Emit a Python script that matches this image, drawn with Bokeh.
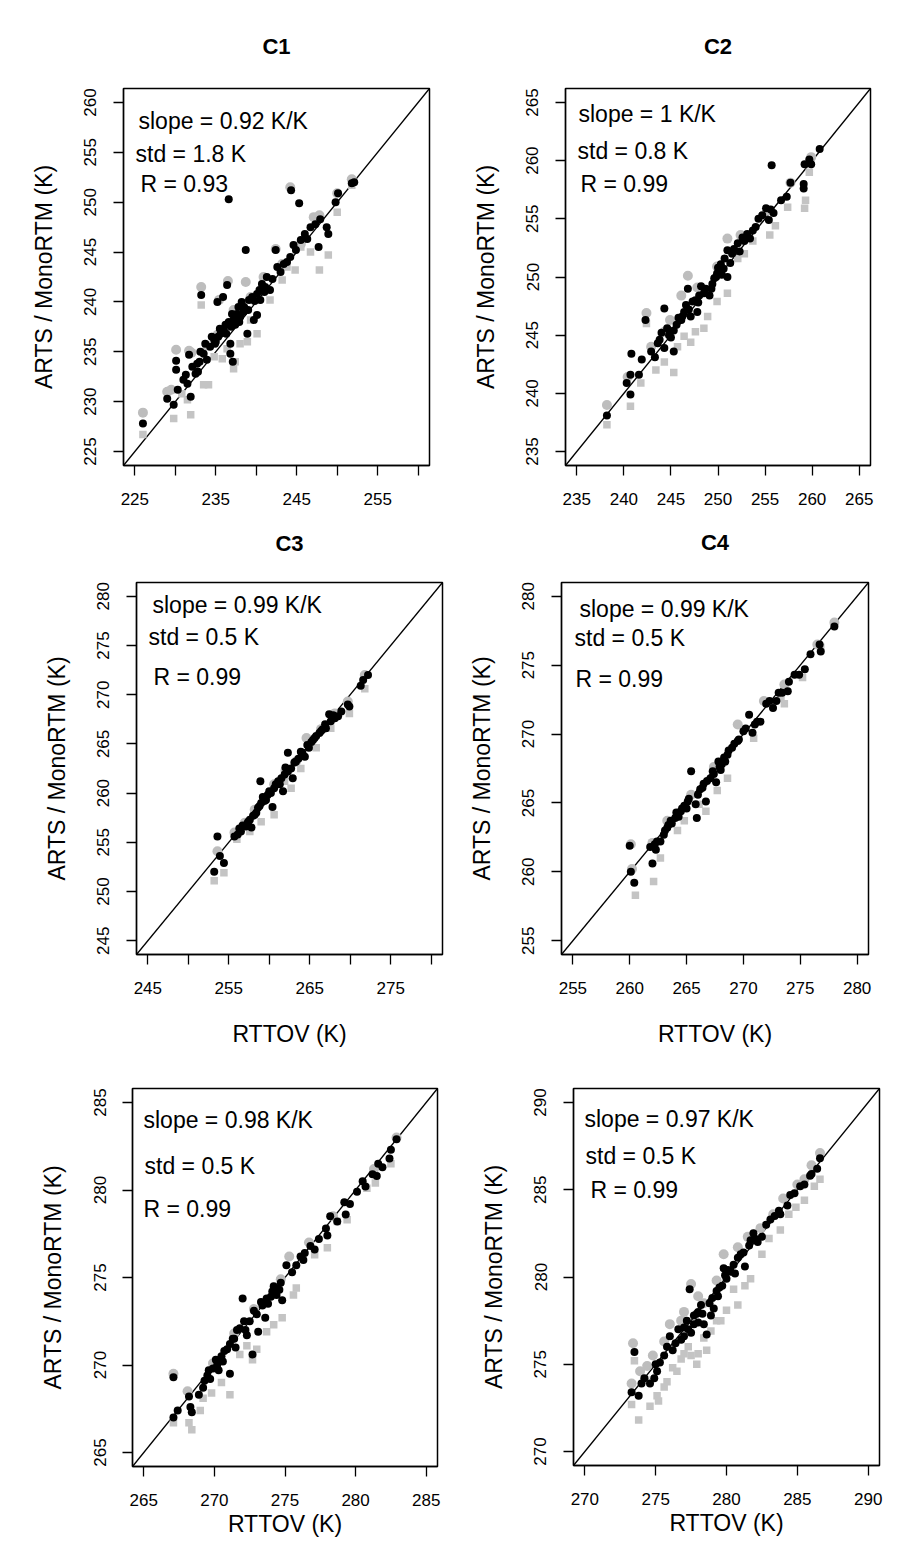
from bokeh.plotting import figure
from bokeh.models import FixedTicker, Range1d, Label
from bokeh.layouts import column, row
from bokeh.embed import file_html
from bokeh.resources import INLINE

FONT = "Liberation Sans"

# ---------------- data (RTTOV, ARTS/MonoRTM) ----------------
c1_black = [(226.0,227.8),(229.0,230.3),(229.8,229.7),(230.1,234.1),(230.1,233.2),(230.3,231.2),(231.0,232.2),(231.3,232.7),
            (231.9,230.5),(231.7,234.7),(232.1,233.5),(233.1,235.0),(233.2,240.7),(232.7,233.8),(233.7,235.8),(233.9,234.2),
            (235.2,240.0),(235.9,240.5),(236.4,241.7),(236.6,250.3),(234.8,236.2),(235.6,236.8),(236.0,237.2),(236.8,235.8),
            (237.1,234.0),(237.2,238.2),(237.6,238.8),(238.0,238.5),(238.7,245.2),(238.5,239.5),(239.1,240.2),(239.5,240.5),
            (240.1,238.7),(240.1,240.8),(240.7,241.8),(241.3,242.5),(241.7,241.2),(242.4,245.2),(242.6,243.5),(243.0,243.0),
            (243.4,243.8),(244.2,244.5),(244.3,251.2),(245.3,249.9),(244.6,245.7),(245.5,246.2),(246.3,246.3),(246.7,247.5),
            (247.3,247.8),(247.7,245.5),(247.9,248.3),(248.9,246.8),(249.8,250.0),(250.1,250.9),(251.8,251.9),(252.1,252.0),
            (248.7,247.5),(234.3,235.5),(234.9,235.8),(235.3,236.5),(236.2,237.7),(236.6,238.0),(237.4,237.7),(237.0,238.8),
            (237.8,239.5),(238.2,240.0),(238.9,236.8),(239.7,238.2),(240.5,240.2),(241.1,241.5),(236.8,234.8),(233.5,234.8),
            (232.5,232.8),(231.5,231.8),(234.5,236.5),(235.0,236.0),(235.5,237.3),(236.3,236.8),(236.9,237.5),(237.3,238.5),
            (237.9,238.0),(238.4,239.0),(239.0,239.2),(239.8,240.1),(240.4,241.2),(241.0,241.0),(242.0,242.3),(243.8,244.0),
            (244.9,245.2),(246.0,246.8),(233.0,234.0),(232.8,233.0)]
c1_circle = [(226.0,228.9),(229.0,231.0),(230.1,235.2),(231.7,235.1),(233.2,241.5),(236.5,242.1),(238.7,242.0),(244.2,251.5),
             (242.4,245.3),(247.8,248.7),(250.0,250.9),(251.8,252.3),(233.9,235.6),(235.2,236.7),(237.2,239.2),(239.3,240.5),
             (240.9,242.5),(243.2,243.8),(245.5,245.8),(247.1,248.5),(235.4,240.2),(229.5,231.2),(232.0,234.9)]
c1_square = [(226.0,226.7),(229.8,228.3),(231.9,228.7),(233.2,239.7),(233.5,231.7),(234.1,231.7),(237.2,233.3),(237.4,234.0),
             (238.9,236.0),(240.1,236.8),(241.7,240.2),(244.8,243.2),(246.7,245.0),(247.8,243.2),(248.9,244.7),(250.0,249.0),
             (251.8,251.7),(231.5,230.2),(235.8,234.3),(236.4,235.3),(239.3,238.2),(243.2,242.2),(243.8,243.5),(245.5,245.5),
             (230.8,230.8),(234.8,234.5),(238.0,235.8)]

c2_black = [(238.2,238.1),(240.3,240.9),(240.7,239.9),(240.8,243.4),(240.7,241.6),(241.6,241.6),(241.9,242.9),(242.3,246.3),
            (242.9,243.6),(243.3,243.1),(243.6,244.3),(244.3,247.3),(244.3,243.9),(244.8,245.0),(244.6,245.6),(245.3,243.6),
            (245.3,245.4),(246.1,246.3),(246.4,247.0),(246.6,247.6),(246.8,249.0),(247.1,246.6),(247.6,248.0),(247.8,247.0),
            (248.0,248.4),(248.5,248.6),(249.1,248.4),(249.4,249.4),(249.6,249.9),(249.9,250.3),(250.3,251.1),(250.6,250.7),
            (251.0,252.3),(251.0,250.0),(251.5,252.0),(252.1,252.9),(252.6,253.4),(253.1,253.7),(253.7,254.0),(254.7,255.3),
            (255.1,255.9),(255.4,254.9),(255.7,259.6),(255.9,255.5),(256.7,256.6),(257.3,256.9),(257.7,258.1),(259.1,258.0),
            (259.1,257.6),(259.2,259.7),(259.7,260.1),(260.8,261.0),(259.9,259.7),(244.9,245.3),(245.6,245.9),(246.2,246.6),
            (247.3,247.9),(248.7,249.0),(249.8,250.0),(250.7,251.6),(251.7,252.4),(252.8,253.1),(254.0,254.3),(243.8,244.6),
            (244.0,245.2),(245.0,244.8),(245.8,246.5),(246.9,247.2),(247.9,247.8),(248.2,249.2),(249.3,249.0),(250.0,250.8),
            (250.4,250.2),(251.3,251.2),(252.3,252.2),(253.4,253.3),(254.3,255.0),(255.6,255.8)]
c2_circle = [(238.2,239.0),(240.4,241.4),(242.4,246.9),(246.1,248.4),(246.8,250.1),(251.0,253.3),(259.9,260.3),(244.3,245.3),
             (242.9,244.0),(247.8,249.1),(249.9,250.9),(252.4,253.6),(255.3,255.7),(257.7,258.1),(244.9,246.3)]
c2_square = [(238.2,237.3),(240.7,238.9),(241.8,240.9),(242.4,246.0),(243.4,242.0),(244.3,242.7),(245.3,241.8),(245.7,244.0),
             (247.1,244.4),(247.6,245.3),(248.9,246.6),(249.9,247.9),(251.0,248.6),(252.1,251.6),(253.7,253.1),(255.5,253.6),
             (256.1,254.4),(257.4,256.0),(259.2,255.9),(259.3,256.6),(259.7,259.0),(248.5,245.6),(246.4,244.9),(252.8,252.0)]

c3_black = [(253.2,252.0),(253.6,255.6),(253.9,253.6),(254.4,252.9),(255.7,255.6),(256.1,255.8),(256.5,256.1),(257.1,256.6),
            (257.6,257.3),(257.8,256.5),(258.2,257.8),(258.6,258.5),(258.9,261.2),(259.4,259.2),(259.8,259.8),(260.4,258.6),
            (260.6,260.5),(261.1,261.2),(261.5,261.5),(261.7,260.2),(262.3,264.1),(262.3,262.2),(262.7,262.5),(262.9,261.5),
            (263.3,263.2),(263.9,264.2),(264.4,263.7),(264.7,264.9),(265.2,265.2),(265.8,265.8),(266.4,266.3),(267.0,266.6),
            (267.6,267.3),(267.4,268.0),(268.1,267.6),(268.5,267.8),(268.9,268.3),(269.7,269.0),(269.9,268.8),(271.3,270.9),
            (271.6,271.5),(272.2,272.0),(256.7,256.7),(257.4,257.1),(258.0,257.7),(258.8,258.7),(259.2,259.6),(260.0,260.2),
            (260.8,260.9),(261.9,261.9),(263.1,263.1),(264.1,264.1),(265.4,265.4),(266.2,266.1),(266.6,266.5),(256.3,256.4),
            (257.3,256.9),(258.4,258.0),(259.0,259.0),(259.6,259.3),(260.2,260.0),(261.3,260.9),(262.0,262.6),(263.6,263.5),
            (264.9,264.6),(265.6,265.6),(266.9,267.0),(267.9,267.9)]
c3_circle = [(253.6,254.1),(255.7,256.0),(258.2,258.3),(260.6,260.9),(263.3,263.2),(264.6,265.6),(266.4,266.5),(268.1,268.1),
             (271.8,272.0),(269.7,269.3),(257.0,257.0),(262.0,262.3)]
c3_square = [(253.2,251.1),(254.4,251.9),(256.0,255.3),(257.6,256.1),(260.6,257.8),(262.7,260.5),(263.9,262.5),(265.8,264.6),
             (269.9,268.1),(271.8,270.6),(259.0,257.1),(267.6,266.6),(261.9,261.2)]

c4_black = [(260.0,261.9),(260.1,260.0),(260.4,259.2),(262.0,260.6),(261.8,261.8),(262.3,261.6),(262.7,262.2),(263.0,262.7),
            (263.3,263.2),(263.6,263.7),(264.0,263.9),(264.5,264.4),(264.8,264.8),(265.1,265.1),(265.4,267.3),(265.8,264.9),
            (265.9,263.9),(266.0,265.6),(266.4,266.1),(266.7,265.1),(266.8,266.6),(267.4,267.1),(267.6,266.5),(267.9,267.6),
            (268.1,267.8),(268.3,268.3),(268.7,268.8),(269.2,269.3),(269.6,269.6),(270.0,270.2),(270.5,271.4),(270.8,270.1),
            (271.0,270.7),(271.5,270.9),(272.0,272.2),(272.6,271.9),(272.9,272.4),(273.1,273.0),(273.9,273.1),(274.0,273.8),
            (274.9,274.3),(275.4,274.7),(275.9,275.8),(276.7,276.5),(276.8,276.0),(278.0,277.8),(262.4,262.2),(263.1,263.0),
            (263.7,263.5),(264.1,264.3),(264.6,264.6),(265.2,265.3),(266.5,266.4),(267.1,266.8),(268.0,267.4),(268.6,268.5),
            (269.5,269.5),(271.2,270.9),(262.2,262.0),(263.4,263.4),(264.3,264.0),(265.0,264.6),(266.2,266.0),(267.3,267.3),
            (267.8,268.0),(268.4,268.0),(269.0,269.0),(270.2,270.4),(272.3,272.4),(273.4,273.0),(274.5,274.3)]
c4_circle = [(260.1,262.0),(262.0,262.1),(263.3,263.7),(265.4,265.6),(267.4,267.6),(269.5,270.7),(271.8,272.4),(273.6,273.6),
             (276.5,276.5),(278.0,278.1),(260.2,260.2)]
c4_square = [(260.5,258.3),(262.1,259.3),(262.7,261.0),(264.2,263.0),(264.8,263.7),(266.7,264.4),(268.6,266.8),(270.9,269.7),
             (273.3,272.6),(275.2,274.1),(276.8,276.3),(266.1,264.9),(267.7,265.9),(273.6,272.2)]

c5_black = [(267.1,269.3),(267.1,267.0),(267.4,267.4),(268.2,268.2),(268.3,267.6),(268.4,267.3),(268.9,268.3),(269.2,268.7),
            (269.3,269.1),(269.7,269.2),(269.9,269.8),(270.2,270.0),(270.4,270.3),(270.3,269.7),(271.1,269.5),(270.9,270.9),
            (271.1,271.2),(271.4,271.5),(271.6,272.0),(272.1,272.5),(272.0,273.8),(272.3,271.7),(272.7,270.6),(273.1,271.9),
            (273.0,272.9),(273.4,273.4),(273.7,273.8),(273.6,272.7),(274.1,274.2),(274.3,274.4),(274.8,273.7),(274.7,274.7),
            (275.1,275.7),(275.5,275.3),(275.8,275.7),(276.1,276.2),(276.4,276.4),(276.8,276.8),(277.1,276.6),(277.9,277.8),
            (278.0,277.4),(278.2,278.5),(278.7,278.2),(279.2,279.3),(279.3,278.6),(280.1,279.9),(280.7,280.2),(281.2,280.9),
            (281.5,280.8),(281.6,281.5),(282.4,281.8),(282.5,282.3),(282.9,282.9),(269.6,269.7),(270.5,270.5),(270.7,270.8),
            (271.8,272.1),(272.5,272.5),(272.8,273.1),(273.3,273.6),(274.0,273.9),(274.2,274.5),(274.6,274.3),(269.5,269.4),
            (270.1,270.3),(270.6,270.2),(271.3,271.5),(271.5,271.0),(272.2,272.0),(273.8,273.5),(274.4,274.0),(276.3,276.0),
            (277.4,277.2),(279.6,279.2),(280.5,280.5),(281.9,281.3)]
c5_circle = [(267.1,269.5),(275.3,276.2),(268.1,268.5),(269.9,270.1),(271.4,271.8),(272.8,273.2),(274.7,274.9),(276.7,277.0),
             (278.4,278.5),(281.3,281.2),(282.9,283.0)]
c5_square = [(267.1,266.7),(268.2,266.7),(268.4,266.3),(269.0,267.4),(269.8,268.4),(270.5,269.0),(271.1,268.3),(271.8,270.6),
             (272.7,270.3),(273.0,270.9),(273.7,271.9),(274.2,272.3),(274.8,272.7),(275.6,274.0),(275.8,274.4),(277.1,276.3),
             (278.0,276.7),(278.7,278.2),(279.4,278.3),(280.8,280.1),(281.4,280.4),(282.5,281.5),(272.3,271.1),(269.2,268.1)]

c6_black = [(273.3,273.4),(273.8,273.2),(273.5,275.7),(274.0,273.9),(274.2,274.2),(274.6,273.9),(274.9,274.2),(275.1,274.6),
            (275.3,275.1),(275.6,275.5),(275.8,276.0),(276.0,276.6),(276.2,275.8),(276.8,276.4),(277.0,277.1),(277.2,277.5),
            (277.4,279.3),(277.5,276.8),(277.7,277.8),(278.0,278.0),(278.2,278.4),(278.4,277.3),(278.6,276.7),(278.9,277.8),
            (279.0,278.8),(279.3,279.2),(279.7,279.5),(279.8,280.5),(280.0,279.9),(280.3,280.3),(280.8,281.1),(281.3,280.6),
            (281.2,281.4),(281.6,281.8),(281.9,282.5),(282.2,282.0),(282.5,282.3),(282.8,283.0),(283.1,283.3),(283.7,283.8),
            (283.8,283.6),(284.3,284.1),(284.5,284.7),(285.2,285.2),(285.5,285.3),(285.9,285.8),(286.4,286.2),(286.6,286.8),
            (277.0,276.6),(277.7,277.3),(278.0,277.4),(279.1,278.2),(279.5,279.4),(279.9,280.1),(280.5,280.7),(281.0,281.3),
            (281.7,282.1),(275.0,275.0),(276.4,276.2),(276.6,277.0),(277.3,277.0),(277.9,277.9),(278.3,277.9),(278.8,278.5),
            (279.4,278.9),(280.1,280.4),(280.6,280.2),(282.0,282.2),(283.4,283.5),(284.8,284.8),(286.0,285.9)]
c6_circle = [(273.4,276.2),(277.5,279.6),(279.8,281.3),(273.3,273.9),(274.4,274.9),(275.6,276.3),(276.8,277.5),(278.4,278.5),
             (280.8,281.7),(282.4,282.8),(284.0,284.5),(285.5,285.6),(286.6,287.1),(273.9,274.6),(276.0,277.3),(274.8,275.5),
             (277.0,278.0),(278.0,278.9),(279.3,279.8),(281.5,282.3),(283.3,283.6),(285.0,285.3),(286.0,286.4)]
c6_square = [(273.3,272.7),(273.8,271.8),(274.6,272.6),(275.1,273.2),(275.6,273.7),(276.2,274.8),(277.0,275.6),(277.5,275.5),
             (278.6,275.8),(278.4,276.5),(279.3,277.5),(280.0,278.1),(280.8,278.4),(281.7,279.9),(282.5,281.3),(283.8,282.7),
             (284.4,283.6),(285.5,284.4),(286.6,285.6),(277.9,275.0),(276.5,274.6),(274.3,274.1),(273.5,275.2),(279.6,277.5),
             (275.8,274.0),(276.8,275.3),(277.3,276.0),(278.0,275.6),(278.9,276.9),(280.5,279.3),(281.3,279.5),(283.0,282.2),
             (284.9,284.0),(286.2,285.2),(275.2,272.9)]

# tick values and labels
c1_ticks = [225, 230, 235, 240, 245, 250, 255, 260]
c1_xlabels_shown = [225, 235, 245, 255]
c2_ticks = [235, 240, 245, 250, 255, 260, 265]
c3_ticks = [245, 250, 255, 260, 265, 270, 275, 280]
c3_xlabels_shown = [245, 255, 265, 275]
c4_ticks = [255, 260, 265, 270, 275, 280]
c5_ticks = [265, 270, 275, 280, 285]
c6_ticks = [270, 275, 280, 285, 290]

titles = ["C1", "C2", "C3", "C4", "", ""]
stats_text = [
    ["slope = 0.92 K/K", "std = 1.8 K", "R = 0.93"],
    ["slope = 1 K/K", "std = 0.8 K", "R = 0.99"],
    ["slope = 0.99 K/K", "std = 0.5 K", "R = 0.99"],
    ["slope = 0.99 K/K", "std = 0.5 K", "R = 0.99"],
    ["slope = 0.98 K/K", "std = 0.5 K", "R = 0.99"],
    ["slope = 0.97 K/K", "std = 0.5 K", "R = 0.99"],
]
ylabel = "ARTS / MonoRTM (K)"
xlabel = "RTTOV (K)"

# ---------------- layout ----------------
# (border_left, frame_w, border_right, border_top, frame_h, border_bottom)
geom = [
    (123, 306, 25, 88, 377, 47),
    (111, 305, 31, 88, 377, 47),
    (136, 306, 12, 66, 372, 98),
    (107, 307, 33, 70, 372, 94),
    (132, 305, 17, 38, 378, 84),
    (119, 306, 22, 39, 377, 84),
]
# pixel offsets of stats text (left, vertical centre) from frame top-left
text_pos = [
    [(15, 32), (12, 65), (17, 95)],
    [(13, 25), (12, 62), (15, 95)],
    [(16, 22), (12, 54), (17, 94)],
    [(18, 26), (13, 55), (14, 96)],
    [(11, 31), (12, 77), (11, 120)],
    [(11, 30), (12, 67), (17, 101)],
]
# title spacing: row 1 uses a plain standoff; row 2 (tighter border) lifts the
# title with an empty second line
title_standoff = [56, 56, 0, 2, 0, 0]
title_lift = [False, False, True, True, False, False]
xlab_standoff = [0, 0, 24, 24, 2, 2]


def make_panel(i, ticks, shown, black, circle, square):
    bl, fw, br, bt, fh, bb = geom[i]
    span = ticks[-1] - ticks[0]
    lo, hi = ticks[0] - 0.04 * span, ticks[-1] + 0.04 * span
    p = figure(frame_width=fw, frame_height=fh,
               min_border_left=bl, min_border_right=br,
               min_border_top=bt, min_border_bottom=bb,
               x_range=Range1d(lo, hi), y_range=Range1d(lo, hi),
               output_backend="svg", toolbar_location=None,
               background_fill_color="white", border_fill_color="white")
    if titles[i]:
        p.title.text = titles[i] + ("\n " if title_lift[i] else "")
        p.title.align = "center"
        p.title.vertical_align = "top"
        p.title.text_font = FONT
        p.title.text_font_size = "22px"
        p.title.text_font_style = "bold"
        p.title.text_color = "black"
        p.title.standoff = title_standoff[i]
    p.grid.visible = False
    p.outline_line_color = "black"
    p.outline_line_width = 1.5
    p.outline_line_alpha = 1.0

    for ax in (p.xaxis[0], p.yaxis[0]):
        ax.ticker = FixedTicker(ticks=ticks, minor_ticks=[])
        ax.major_tick_out = 10
        ax.major_tick_in = 0
        ax.major_tick_line_width = 1.3
        ax.major_tick_line_color = "black"
        ax.minor_tick_line_color = None
        ax.axis_line_color = "black"
        ax.axis_line_width = 1.3
        ax.major_label_text_font = FONT
        ax.major_label_text_font_size = "17px"
        ax.major_label_text_color = "black"
        ax.major_label_standoff = 17
        ax.axis_label_text_font = FONT
        ax.axis_label_text_font_size = "23px"
        ax.axis_label_text_font_style = "normal"
        ax.axis_label_text_color = "black"
    if shown is not None:
        p.xaxis[0].major_label_overrides = {t: "" for t in ticks if t not in shown}
    p.yaxis[0].major_label_orientation = "vertical"
    p.yaxis[0].axis_label = ylabel
    p.yaxis[0].axis_label_standoff = 25
    if i >= 2:
        p.xaxis[0].axis_label = xlabel
        p.xaxis[0].axis_label_standoff = xlab_standoff[i]

    p.line([lo, hi], [lo, hi], line_color="black", line_width=1.3)
    p.scatter([a for a, b in circle], [b for a, b in circle], marker="circle",
              size=10, fill_color="#bdbdbd", line_color=None)
    p.scatter([a for a, b in square], [b for a, b in square], marker="square",
              size=7.5, fill_color="#c4c4c4", line_color=None)
    p.scatter([a for a, b in black], [b for a, b in black], marker="circle",
              size=8, fill_color="black", line_color=None)

    for txt, (dx, dy) in zip(stats_text[i], text_pos[i]):
        p.add_layout(Label(x=lo + dx / fw * (hi - lo), y=hi - dy / fh * (hi - lo),
                           text=txt, text_font=FONT, text_font_size="23px",
                           text_color="black", text_align="left",
                           text_baseline="middle"))
    return p


p1 = make_panel(0, c1_ticks, c1_xlabels_shown, c1_black, c1_circle, c1_square)
p2 = make_panel(1, c2_ticks, None, c2_black, c2_circle, c2_square)
p3 = make_panel(2, c3_ticks, c3_xlabels_shown, c3_black, c3_circle, c3_square)
p4 = make_panel(3, c4_ticks, None, c4_black, c4_circle, c4_square)
p5 = make_panel(4, c5_ticks, None, c5_black, c5_circle, c5_square)
p6 = make_panel(5, c6_ticks, None, c6_black, c6_circle, c6_square)

layout = column(row(p1, p2), row(p3, p4), row(p5, p6))
open("out.html", "w").write(file_html(layout, INLINE))
